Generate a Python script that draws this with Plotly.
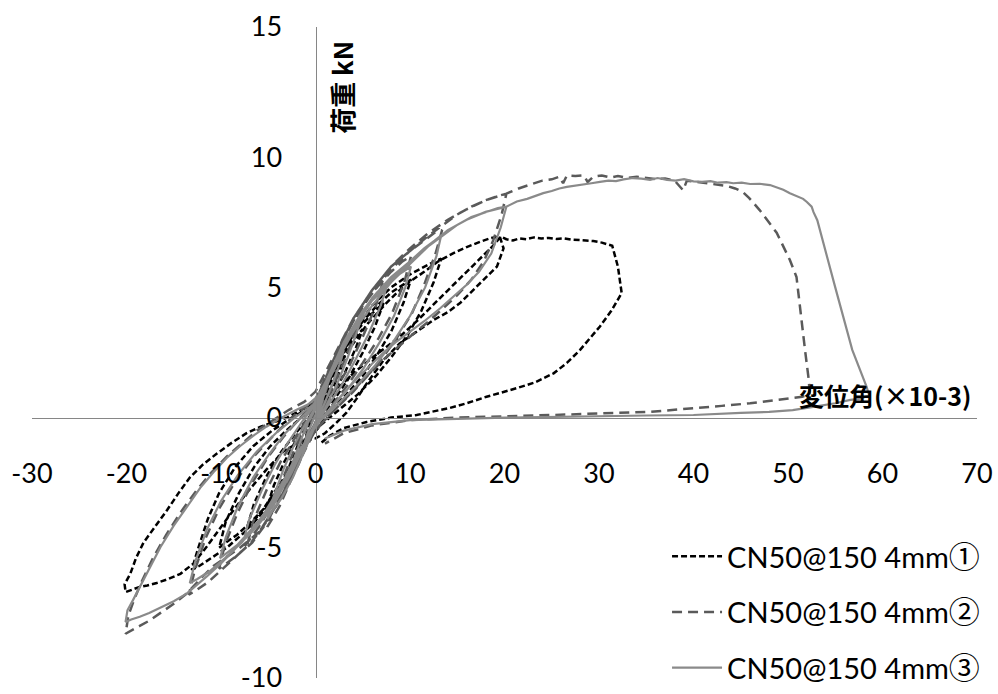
import plotly.graph_objects as go

# 変位角 (x10^-3 rad), 荷重 (kN) — 試験体ごとの履歴
curve_1 = [
    (0, 0), (0.5, 0.4), (1, 0.9), (1.5, 1.2), (1.1, 0.8), (0.5, 0.2), (0, -0.2), (-0.5, -0.6), (-1, -0.9),
    (-1.5, -1.2), (-1.1, -0.8), (-0.5, -0.2), (0, 0.1),
    (0.8, 0.8), (1.6, 1.5), (2.4, 2.0), (3.1, 2.4), (2.6, 1.8), (1.7, 1.0), (0.8, 0.3), (0, -0.3), (-0.9, -0.9),
    (-1.8, -1.6), (-2.6, -2.1), (-3.2, -2.4), (-2.7, -1.8), (-1.8, -1.0), (-0.9, -0.3), (0, 0.3),
    (1, 1.0), (2, 1.8), (3, 2.5), (4, 3.0), (5, 3.4), (4.3, 2.7), (3.2, 1.8), (2, 1.0), (0.8, 0.2), (-0.4, -0.5),
    (-1.5, -1.3), (-2.7, -2.1), (-3.8, -2.8), (-4.6, -3.2), (-5.1, -3.4), (-4.4, -2.6), (-3.3, -1.7), (-2.1, -0.9),
    (-0.9, -0.2), (0.3, 0.5),
    (1.5, 1.5), (3, 2.6), (4.5, 3.4), (6, 4.0), (7.2, 4.4), (6.3, 3.5), (5, 2.5), (3.5, 1.5), (2, 0.7), (0.5, 0.0),
    (-1, -0.8), (-2.5, -1.9), (-4, -2.9), (-5.5, -3.6), (-6.7, -4.1), (-7.3, -4.3), (-6.5, -3.3), (-5.1, -2.2),
    (-3.6, -1.3), (-2.1, -0.6), (-0.7, 0.0), (0.5, 0.6),
    (1.8, 1.7), (3.5, 2.9), (5, 3.7), (6.5, 4.3), (8, 4.8), (9.2, 5.1), (10.1, 5.3), (9.3, 4.4), (8, 3.3),
    (6.5, 2.4), (5, 1.6), (3.3, 0.9), (1.6, 0.3), (0, -0.4), (-1.8, -1.4), (-3.5, -2.5), (-5.2, -3.4), (-6.8, -4.0),
    (-8.3, -4.5), (-9.5, -4.8), (-10.2, -5.0), (-9.5, -4.0), (-8.1, -2.9), (-6.5, -1.9), (-4.8, -1.1), (-3.1, -0.5),
    (-1.5, 0.0), (0.1, 0.5),
    (2, 1.9), (4, 3.3), (6, 4.3), (8, 5.0), (10, 5.5), (11.5, 5.8), (12.6, 6.0), (13.3, 6.1), (12.5, 5.2),
    (11.2, 4.1), (9.8, 3.2), (8.2, 2.4), (6.4, 1.6), (4.5, 0.9), (2.5, 0.3), (0.5, -0.3), (-1.5, -1.2), (-3.5, -2.4),
    (-5.5, -3.5), (-7.5, -4.4), (-9.4, -5.0), (-11, -5.4), (-12.3, -5.7), (-13.1, -5.85), (-12.4, -5.0),
    (-11.4, -3.9), (-10.2, -2.9), (-8.5, -1.9), (-6.6, -1.1), (-4.6, -0.5), (-2.5, 0.0), (-0.5, 0.4),
    (1.5, 1.3), (3.5, 2.6), (5.5, 3.6), (7.5, 4.4), (9.5, 5.1), (11.5, 5.6), (13, 6.0), (14.5, 6.3), (16, 6.55),
    (17.4, 6.75), (18.6, 6.9), (19.5, 6.95), (19.9, 6.5), (19.2, 5.8), (18.1, 5.4), (16.7, 4.9), (15.3, 4.4),
    (14, 4.05), (12.5, 3.75), (10.7, 3.3), (8.9, 2.85), (7.2, 2.2), (5.4, 1.3), (4.3, 0.7), (3.3, 0.2), (2.2, -0.2),
    (1, -0.6), (0, -0.8), (-1.5, -0.9), (-3.4, -1.3), (-5.2, -2.0), (-7.3, -2.9), (-9.4, -3.9), (-11.5, -4.95),
    (-12.9, -5.6), (-14.3, -6.0), (-15.6, -6.2), (-16.8, -6.35), (-17.8, -6.45), (-18.6, -6.5), (-19.4, -6.6),
    (-20.1, -6.7), (-20.2, -6.4), (-19.6, -6.0), (-19.0, -5.4), (-18.2, -4.8), (-17, -4.2), (-15.7, -3.55),
    (-14.5, -2.9), (-13.3, -2.3), (-11.9, -1.8), (-10.4, -1.37), (-8.8, -0.95), (-7.3, -0.6), (-5.8, -0.35),
    (-4.5, -0.2), (-3, 0.0), (-1.5, 0.3),
    (0, 0.6), (2, 1.0), (4, 1.7), (6, 2.3), (8.9, 3.1), (11, 3.8), (13.2, 4.6), (15.4, 5.4), (17.4, 6.1),
    (18.8, 6.6), (19.6, 6.95), (20.2, 6.85), (20.9, 6.8), (21.6, 6.88), (22.3, 6.85), (23.1, 6.92), (23.9, 6.88),
    (24.7, 6.9), (25.5, 6.86), (26.3, 6.88), (27.0, 6.84), (27.8, 6.83), (28.6, 6.8), (29.4, 6.78), (30.3, 6.72),
    (31.4, 6.6), (32.0, 5.8), (32.4, 4.78), (31.3, 4.1), (30.1, 3.5), (29, 3.05), (28, 2.6), (26.6, 2.1),
    (25.2, 1.7), (23.2, 1.35), (21.3, 1.13), (18.1, 0.8), (16, 0.55), (14.2, 0.37), (12.4, 0.22), (10.7, 0.1),
    (8, 0.0), (5.4, -0.17), (3, -0.4), (1.5, -0.7), (0.5, -1.0),
]

curve_2 = [
    (0, 0), (0.5, 0.6), (1.0, 1.1), (1.5, 1.5), (1.1, 1.0), (0.5, 0.3), (0, -0.2), (-0.6, -0.8), (-1.1, -1.2),
    (-1.6, -1.5), (-1.2, -1.0), (-0.6, -0.3), (0, 0.2),
    (0.8, 1.0), (1.6, 1.7), (2.4, 2.3), (3.1, 2.8), (2.6, 2.1), (1.7, 1.2), (0.8, 0.4), (0, -0.3), (-0.9, -1.0),
    (-1.8, -1.8), (-2.6, -2.4), (-3.2, -2.8), (-2.7, -2.1), (-1.8, -1.2), (-0.9, -0.3), (0, 0.4),
    (1, 1.3), (2, 2.2), (3, 3.0), (4, 3.7), (5, 4.2), (4.3, 3.4), (3.2, 2.3), (2.0, 1.3), (0.8, 0.4), (-0.4, -0.5),
    (-1.5, -1.5), (-2.7, -2.5), (-3.8, -3.4), (-4.6, -3.9), (-5.1, -4.2), (-4.4, -3.3), (-3.3, -2.2), (-2.1, -1.1),
    (-0.9, -0.2), (0.3, 0.6),
    (1.5, 1.9), (3, 3.1), (4.5, 4.0), (6, 4.8), (7.2, 5.3), (6.4, 4.3), (5, 3.1), (3.6, 2.0), (2, 1.0), (0.5, 0.2),
    (-1, -0.9), (-2.5, -2.2), (-4, -3.3), (-5.5, -4.2), (-6.7, -4.8), (-7.3, -5.0), (-6.6, -4.0), (-5.2, -2.8),
    (-3.7, -1.7), (-2.2, -0.8), (-0.8, 0.0), (0.4, 0.7),
    (1.8, 2.1), (3.5, 3.4), (5, 4.3), (6.5, 5.0), (8, 5.6), (9.2, 6.0), (10.1, 6.2), (9.4, 5.2), (8.1, 4.0),
    (6.6, 3.0), (5, 2.1), (3.3, 1.2), (1.6, 0.4), (0, -0.4), (-1.8, -1.6), (-3.5, -2.9), (-5.2, -4.0), (-6.8, -4.8),
    (-8.3, -5.3), (-9.5, -5.6), (-10.2, -5.8), (-9.6, -4.9), (-8.3, -3.7), (-6.7, -2.5), (-5, -1.5), (-3.3, -0.7),
    (-1.6, 0.0), (0.1, 0.7),
    (2, 2.3), (4, 3.8), (6, 4.9), (8, 5.8), (10, 6.4), (11.5, 6.8), (12.6, 7.1), (13.4, 7.2), (12.7, 6.3),
    (11.5, 5.1), (10.2, 4.0), (8.5, 3.0), (6.5, 2.0), (4.4, 1.2), (2.3, 0.4), (0.2, -0.4), (-2, -1.6), (-4, -3.0),
    (-6, -4.2), (-8, -5.2), (-9.8, -5.8), (-11.3, -6.3), (-12.5, -6.6), (-13.4, -6.8), (-12.8, -5.9), (-11.6, -4.6),
    (-10.2, -3.5), (-8.4, -2.4), (-6.3, -1.4), (-4.2, -0.6), (-2.2, 0.1), (0, 0.7),
    (2, 2.3), (4, 3.7), (6, 4.8), (8, 5.7), (10, 6.4), (12, 7.0), (13.5, 7.4), (15, 7.8), (16.5, 8.1), (18, 8.35),
    (19.2, 8.5), (20.2, 8.6), (19.7, 7.8), (18.8, 6.8), (17.8, 6.0), (16.5, 5.3), (15, 4.7), (13.5, 4.2), (12, 3.7),
    (10.3, 3.2), (8.7, 2.7), (7.1, 2.2), (5.5, 1.6), (4, 1.0), (2.6, 0.5), (1.2, 0.0), (-0.2, -0.6),
    (-2, -1.9), (-4, -3.3), (-6, -4.4), (-8, -5.0), (-10.8, -5.7), (-12.2, -6.2), (-13.6, -6.75), (-15, -7.15),
    (-16.4, -7.5), (-17.6, -7.8), (-18.6, -8.0), (-19.4, -8.15), (-20.1, -8.3), (-19.8, -7.6), (-19.2, -7.0),
    (-18.4, -6.3), (-17.2, -5.4), (-15.8, -4.5), (-14.2, -3.6), (-12.6, -2.8), (-11, -2.1), (-9.4, -1.5),
    (-7.8, -1.0), (-6.2, -0.5), (-4.5, -0.1), (-2.8, 0.3), (-1.2, 0.6),
    (0, 1.0), (2, 2.4), (4, 3.8), (6, 4.9), (8, 5.8), (10, 6.5), (12, 7.1), (14, 7.6), (16, 8.0), (18, 8.35),
    (20.2, 8.6), (21.5, 8.8), (23, 8.99), (24, 9.1), (25, 9.15), (25.8, 9.25), (26.2, 9.0), (26.6, 9.3),
    (27.5, 9.28), (28.4, 9.3), (28.8, 9.05), (29.4, 9.25), (30.3, 9.3), (31.2, 9.22), (32.0, 9.28), (33, 9.2),
    (34, 9.25), (35, 9.2), (36, 9.16), (37, 9.18), (38, 9.1), (38.9, 8.73), (39.3, 9.1), (40.3, 9.05), (41.3, 9.0),
    (42.5, 8.93), (43.5, 8.9), (44.4, 8.8), (45.2, 8.67), (45.9, 8.43), (47, 7.97), (48.8, 7.1), (50.2, 6.05),
    (50.9, 5.4), (51.3, 4.1), (51.8, 2.6), (52.2, 1.44), (52.3, 0.9),
    (51.5, 0.8), (50.5, 0.75), (48, 0.65), (46, 0.55), (43, 0.45), (40.7, 0.37), (38, 0.3), (35.4, 0.22),
    (30, 0.15), (25, 0.1), (20, 0.05), (15, 0.0), (10, -0.1), (6, -0.3), (3, -0.6), (1, -1.0),
]

curve_3 = [
    (0, 0), (0.4, 0.5), (0.9, 1.0), (1.4, 1.4), (1.1, 1.1), (0.6, 0.5), (0.1, -0.1), (-0.5, -0.6), (-1.0, -1.0),
    (-1.5, -1.35), (-1.2, -1.0), (-0.6, -0.4), (0.0, 0.1),
    (0.7, 0.8), (1.5, 1.5), (2.2, 2.0), (3.0, 2.6), (2.6, 2.1), (1.8, 1.3), (0.9, 0.5), (0.0, -0.2), (-0.9, -0.9),
    (-1.8, -1.6), (-2.5, -2.1), (-3.1, -2.5), (-2.6, -1.9), (-1.7, -1.0), (-0.8, -0.2), (0.1, 0.4),
    (1.0, 1.2), (2.0, 2.1), (3.0, 2.9), (4.0, 3.5), (5.0, 4.0), (4.4, 3.3), (3.4, 2.3), (2.3, 1.3), (1.2, 0.5),
    (0.0, -0.3), (-1.2, -1.3), (-2.4, -2.3), (-3.6, -3.1), (-4.6, -3.6), (-5.1, -3.9), (-4.5, -3.1), (-3.4, -2.0),
    (-2.2, -1.0), (-1.0, -0.2), (0.2, 0.5),
    (1.5, 1.7), (3.0, 2.9), (4.5, 3.8), (6.0, 4.5), (7.2, 4.9), (7.6, 5.1), (6.9, 4.3), (5.6, 3.2), (4.2, 2.2),
    (2.7, 1.2), (1.2, 0.4), (0, -0.3), (-1.5, -1.3), (-3.0, -2.4), (-4.5, -3.4), (-6.0, -4.1), (-7.0, -4.5),
    (-7.6, -4.7), (-7.0, -3.9), (-5.7, -2.8), (-4.3, -1.8), (-2.8, -0.9), (-1.3, -0.1), (0.2, 0.6),
    (1.8, 1.9), (3.5, 3.2), (5.0, 4.1), (6.5, 4.8), (8.0, 5.3), (9.2, 5.6), (10.1, 5.8), (9.5, 5.0), (8.3, 3.9),
    (6.8, 2.9), (5.1, 1.9), (3.4, 1.1), (1.7, 0.4), (0, -0.3), (-1.8, -1.4), (-3.5, -2.6), (-5.2, -3.6),
    (-6.8, -4.3), (-8.3, -4.9), (-9.4, -5.2), (-10.1, -5.4), (-9.5, -4.6), (-8.2, -3.4), (-6.6, -2.3), (-4.9, -1.4),
    (-3.2, -0.6), (-1.5, 0.0), (0.2, 0.6),
    (2, 2.0), (4, 3.5), (6, 4.6), (8, 5.4), (10, 6.0), (11.5, 6.5), (12.6, 6.8), (13.3, 7.0), (12.8, 6.2),
    (11.6, 5.0), (10.0, 3.9), (8.2, 2.9), (6.3, 2.0), (4.3, 1.2), (2.3, 0.5), (0.3, -0.2), (-1.8, -1.3), (-3.8, -2.7),
    (-5.8, -3.9), (-7.8, -4.8), (-9.6, -5.4), (-11.2, -5.9), (-12.5, -6.2), (-13.3, -6.35), (-12.7, -5.5),
    (-11.5, -4.3), (-10.0, -3.2), (-8.2, -2.2), (-6.2, -1.3), (-4.2, -0.6), (-2.2, 0.0), (-0.2, 0.5),
    (2, 2.0), (4, 3.3), (6, 4.3), (8, 5.2), (10, 5.9), (12, 6.6), (13.5, 7.0), (15, 7.4), (16.5, 7.7), (18, 7.9),
    (19.3, 8.05), (20.2, 8.1), (19.6, 7.3), (18.6, 6.3), (17.3, 5.6), (16, 5.1), (14.5, 4.6), (13.2, 4.2),
    (11.5, 3.7), (10, 3.3), (8.5, 2.9), (7.2, 2.5), (5.8, 2.0), (4.4, 1.5), (3.0, 0.95), (1.9, 0.5), (0.8, 0.0),
    (-0.5, -0.6),
    (-2, -1.6), (-4, -3.0), (-6, -4.1), (-8.7, -5.1), (-10, -5.6), (-11.5, -6.1), (-13.6, -6.75), (-15, -7.05),
    (-16.4, -7.3), (-17.6, -7.5), (-18.6, -7.65), (-19.5, -7.75), (-20.1, -7.85), (-19.9, -7.4), (-19.3, -7.0),
    (-18.6, -6.5), (-17.6, -5.8), (-16.4, -4.97), (-15, -4.15), (-13.6, -3.4), (-12.2, -2.7), (-10.8, -2.1),
    (-9.4, -1.55), (-8, -1.1), (-6.6, -0.7), (-5.2, -0.35), (-3.6, 0.0), (-2, 0.3), (-0.8, 0.5),
    (0.5, 0.9), (2, 2.1), (4, 3.4), (6, 4.5), (8, 5.3), (10, 6.0), (12, 6.6), (14, 7.2), (16, 7.6), (18, 7.9),
    (20.2, 8.1), (21.3, 8.3), (22.4, 8.4), (23.2, 8.5), (24.1, 8.62), (25.0, 8.7), (25.8, 8.8), (26.6, 8.86),
    (27.5, 8.9), (28.3, 8.96), (29.2, 9.0), (30.1, 9.05), (31.0, 9.1), (31.8, 9.08), (32.6, 9.15), (33.6, 9.2),
    (34.5, 9.18), (35.4, 9.13), (36.2, 9.2), (37.2, 9.13), (38.1, 9.1), (39.0, 9.16), (40.0, 9.07), (40.9, 9.05),
    (41.8, 9.08), (42.6, 9.02), (43.5, 9.04), (44.2, 9.0), (45.1, 9.02), (46.0, 8.97), (47.0, 8.98), (48.1, 8.93),
    (48.8, 8.85), (49.5, 8.75), (50.2, 8.62), (51.0, 8.5), (51.6, 8.4), (52.0, 8.28), (52.5, 8.1), (52.7, 7.89),
    (53.1, 7.58), (55.0, 5.0), (56.8, 2.6), (58.3, 1.2), (58.6, 0.85),
    (57.5, 0.72), (56.6, 0.68), (55, 0.55), (53.5, 0.45), (52.5, 0.4), (50.5, 0.29), (48, 0.22), (45, 0.18),
    (40, 0.1), (35, 0.08), (30, 0.06), (25, 0.04), (20, 0.0), (15, -0.05), (10, -0.1), (6, -0.25), (3, -0.5),
    (1, -0.8),
]

series_labels = ["CN50@150 4mm", "CN50@150 4mm", "CN50@150 4mm"]
series_marks = ["①", "②", "③"]
series_curves = [curve_1, curve_2, curve_3]
series_colors = ["#000000", "#5a5a5a", "#8a8a8a"]
series_dashes = ["6px,3px", "10px,6px", "solid"]
series_widths = [2.5, 2.5, 2.2]

x_ticks = [-30, -20, -10, 0, 10, 20, 30, 40, 50, 60, 70]
y_ticks = [-10, -5, 0, 5, 10, 15]
x_title = "変位角(×10-3)"
y_title = "荷重 kN"

fig = go.Figure()
for i, curve in enumerate(series_curves):
    # circled specimen number set in the CJK face so it keeps its full-width size
    name = (series_labels[i] +
            f"<span style=\"font-family:'Noto Sans CJK JP';font-size:31px\">{series_marks[i]}</span>")
    fig.add_trace(go.Scatter(
        x=[p[0] for p in curve],
        y=[p[1] for p in curve],
        mode="lines",
        name=name,
        legendgroup=f"g{i}",
        line=dict(color=series_colors[i], width=series_widths[i], dash=series_dashes[i]),
    ))

tick_font = dict(family="Lato", size=27, color="#000000")
axis_line = dict(showline=True, linecolor="#868686", linewidth=1, showgrid=False, zeroline=False,
                 ticks="outside", tickcolor="rgba(0,0,0,0)", tickfont=tick_font)

# plain hyphen for negative labels
fig.update_xaxes(range=[x_ticks[0], x_ticks[-1]], tickvals=x_ticks, ticktext=[str(v) for v in x_ticks],
                 anchor="free", position=(0 - y_ticks[0]) / (y_ticks[-1] - y_ticks[0]), ticklen=32, **axis_line)
fig.update_yaxes(range=[y_ticks[0], y_ticks[-1]], tickvals=y_ticks, ticktext=[str(v) for v in y_ticks],
                 anchor="free", position=(0 - x_ticks[0]) / (x_ticks[-1] - x_ticks[0]), ticklen=28, **axis_line)

title_font_x = dict(family="Noto Sans CJK JP", size=25, color="#000000", weight="bold")
title_font_y = dict(family="Noto Sans CJK JP", size=26, color="#000000", weight="bold")
fig.add_annotation(x=60.3, y=0.87, xref="x", yref="y", text=x_title, showarrow=False,
                   font=title_font_x, xanchor="center", yanchor="middle")
fig.add_annotation(x=2.8, y=12.7, xref="x", yref="y", text=y_title, showarrow=False,
                   font=title_font_y, textangle=-90, xanchor="center", yanchor="middle")

fig.update_layout(
    width=998, height=694,
    margin=dict(l=32, r=21, t=27, b=16, autoexpand=False),
    paper_bgcolor="white", plot_bgcolor="white",
    showlegend=True,
    legend=dict(x=0.672, y=0.226, xanchor="left", yanchor="top",
                font=dict(family="Lato", size=29, color="#000000"),
                bgcolor="rgba(0,0,0,0)", tracegroupgap=15, itemwidth=50),
)

fig.write_html("out.html")
